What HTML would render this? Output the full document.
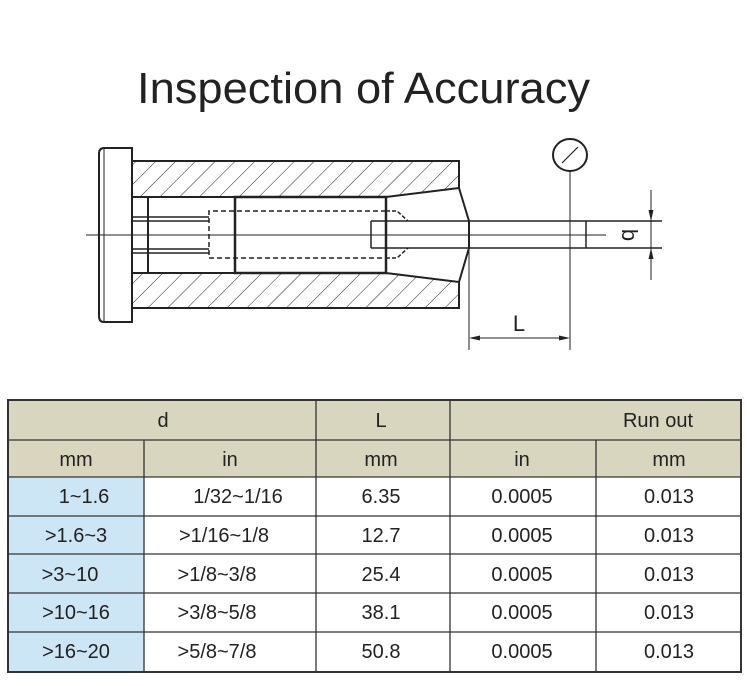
<!DOCTYPE html>
<html><head><meta charset="utf-8"><style>
body{margin:0;background:#fff;width:750px;height:686px;overflow:hidden;font-family:"Liberation Sans",sans-serif}
</style></head><body>
<svg width="750" height="686" viewBox="0 0 750 686" xmlns="http://www.w3.org/2000/svg" style="position:absolute;left:0;top:0">
<defs>
<pattern id="h" width="14" height="14" patternUnits="userSpaceOnUse" patternTransform="rotate(45)">
<line x1="0" y1="0" x2="0" y2="14" stroke="#222" stroke-width="1"/>
</pattern>
</defs>
<text x="137" y="103" font-family="Liberation Sans, sans-serif" font-size="44" fill="#222" textLength="453" lengthAdjust="spacingAndGlyphs">Inspection of Accuracy</text>

<g stroke="#222" fill="none" stroke-width="1.5">
<path d="M104 148 L132 148 L132 322 L104 322 Q99 322 99 316 L99 154 Q99 148 104 148 Z" stroke-width="2"/>
<line x1="104" y1="148" x2="104" y2="322" stroke-width="1"/>
<path d="M132 161 L459 161 L459 188 L386 197 L132 197 Z" fill="url(#h)" stroke-width="2"/>
<path d="M132 273 L386 273 L459 282 L459 308 L132 308 Z" fill="url(#h)" stroke-width="2"/>
<path d="M459 188 L469 221 L469 248 L459 282" stroke-width="2"/>
<line x1="148" y1="197" x2="148" y2="273" stroke-width="2"/>
<rect x="235" y="197" width="151" height="76" stroke-width="2.5"/>
<line x1="132" y1="217" x2="209" y2="217"/>
<line x1="132" y1="221" x2="209" y2="221"/>
<line x1="132" y1="249" x2="209" y2="249"/>
<line x1="132" y1="253" x2="209" y2="253"/>
<path d="M386 211 L209 211 L209 258 L386 258" stroke-dasharray="5,3"/>
<path d="M386 211 L397 211 L408 221 M386 258 L397 258 L408 248" stroke-dasharray="4,2"/>
<line x1="371" y1="221" x2="662" y2="221"/>
<line x1="371" y1="248" x2="662" y2="248"/>
<line x1="371" y1="221" x2="371" y2="248"/>
<line x1="586" y1="221" x2="586" y2="248"/>
<line x1="86" y1="235" x2="606" y2="235" stroke-width="1"/>
<ellipse cx="570" cy="155" rx="17" ry="16" stroke-width="2"/>
<line x1="562" y1="163" x2="578" y2="147" stroke-width="1.2"/>
<line x1="570" y1="171" x2="570" y2="350" stroke-width="1"/>
<line x1="469" y1="250" x2="469" y2="350" stroke-width="1"/>
<line x1="471" y1="338" x2="568" y2="338" stroke-width="1"/>
<line x1="651" y1="190" x2="651" y2="280" stroke-width="1"/>
</g>
<g fill="#222">
<path d="M469 338 L480 335.5 L480 340.5 Z"/>
<path d="M570 338 L559 335.5 L559 340.5 Z"/>
<path d="M651 221 L648.5 210 L653.5 210 Z"/>
<path d="M651 248 L648.5 259 L653.5 259 Z"/>
</g>
<text x="519" y="331" font-size="22" fill="#222" text-anchor="middle">L</text>
<text transform="translate(622,235) matrix(0,-1,-1,0,0,0)" font-size="22" fill="#222" text-anchor="middle">d</text>

<g font-family="Liberation Sans, sans-serif" font-size="20" fill="#222" text-anchor="middle">
<rect x="8" y="400" width="733" height="77" fill="#d9d6c0"/>
<rect x="8" y="477" width="136" height="195" fill="#cde6f5"/>
<g stroke="#333" stroke-width="1.3">
<rect x="8" y="400" width="733" height="272" fill="none" stroke-width="2"/>
<line x1="8" y1="440" x2="741" y2="440"/>
<line x1="8" y1="477" x2="741" y2="477"/>
<line x1="8" y1="516" x2="741" y2="516"/>
<line x1="8" y1="554" x2="741" y2="554"/>
<line x1="8" y1="593" x2="741" y2="593"/>
<line x1="8" y1="632" x2="741" y2="632"/>
<line x1="144" y1="440" x2="144" y2="672"/>
<line x1="316" y1="400" x2="316" y2="672"/>
<line x1="450" y1="400" x2="450" y2="672"/>
<line x1="596" y1="440" x2="596" y2="672"/>
</g>
<text x="163" y="427">d</text>
<text x="381" y="427">L</text>
<text x="658" y="427">Run out</text>
<text x="76" y="466">mm</text>
<text x="230" y="466">in</text>
<text x="381" y="466">mm</text>
<text x="522" y="466">in</text>
<text x="669" y="466">mm</text>
<g>
<text x="84" y="503">1~1.6</text><text x="238" y="503">1/32~1/16</text><text x="381" y="503">6.35</text><text x="522" y="503">0.0005</text><text x="669" y="503">0.013</text>
<text x="76" y="542">&gt;1.6~3</text><text x="224" y="542">&gt;1/16~1/8</text><text x="381" y="542">12.7</text><text x="522" y="542">0.0005</text><text x="669" y="542">0.013</text>
<text x="70" y="581">&gt;3~10</text><text x="217" y="581">&gt;1/8~3/8</text><text x="381" y="581">25.4</text><text x="522" y="581">0.0005</text><text x="669" y="581">0.013</text>
<text x="76" y="619">&gt;10~16</text><text x="217" y="619">&gt;3/8~5/8</text><text x="381" y="619">38.1</text><text x="522" y="619">0.0005</text><text x="669" y="619">0.013</text>
<text x="76" y="658">&gt;16~20</text><text x="217" y="658">&gt;5/8~7/8</text><text x="381" y="658">50.8</text><text x="522" y="658">0.0005</text><text x="669" y="658">0.013</text>
</g>
</g>
</svg>
</body></html>
